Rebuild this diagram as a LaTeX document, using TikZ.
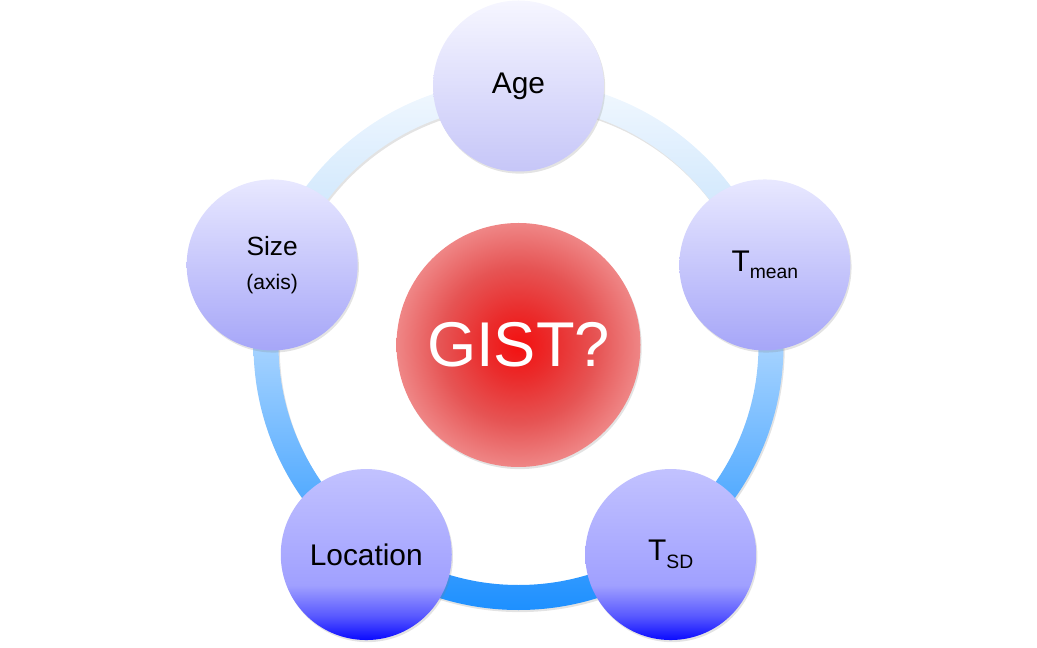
\documentclass[tikz,border=0pt]{standalone}
\usepackage{fontspec}
\setmainfont{Liberation Sans}
\usetikzlibrary{shadows}

\definecolor{ringtop}{HTML}{F2F8FE}
\definecolor{ringupper}{HTML}{CFE7FD}
\definecolor{ringmid}{HTML}{A6D3FF}
\definecolor{ringlower}{HTML}{5CAFFF}
\definecolor{ringlow}{HTML}{1E90FF}
\definecolor{agetop}{HTML}{F6F6FF}
\definecolor{agelow}{HTML}{C6C6F8}
\definecolor{midtop}{HTML}{E8E8FF}
\definecolor{midlow}{HTML}{A6A6F8}
\definecolor{lowtop}{HTML}{C2C2FF}
\definecolor{lowmid}{HTML}{A0A0FF}
\definecolor{lowramp}{HTML}{5858FF}
\definecolor{lowlow}{HTML}{0A0AFF}
\definecolor{gistcore}{HTML}{F41010}
\definecolor{gistin}{HTML}{EA2C2C}
\definecolor{gistout}{HTML}{E65454}
\definecolor{gistrim}{HTML}{EF8686}

\pgfdeclareverticalshading{ringfade}{100bp}{color(0bp)=(ringlow); color(25bp)=(ringlow); color(37bp)=(ringlower); color(50bp)=(ringmid); color(62bp)=(ringupper); color(75bp)=(ringtop); color(100bp)=(ringtop)}
\pgfdeclareverticalshading{topball}{100bp}{color(0bp)=(agelow); color(25bp)=(agelow); color(75bp)=(agetop); color(100bp)=(agetop)}
\pgfdeclareverticalshading{midball}{100bp}{color(0bp)=(midlow); color(25bp)=(midlow); color(75bp)=(midtop); color(100bp)=(midtop)}
\pgfdeclareverticalshading{lowball}{100bp}{color(0bp)=(lowlow); color(25bp)=(lowlow); color(32bp)=(lowramp); color(41bp)=(lowmid); color(75bp)=(lowtop); color(100bp)=(lowtop)}
\pgfdeclareradialshading{gistball}{\pgfpoint{0bp}{0bp}}{color(0bp)=(gistcore); color(7bp)=(gistin); color(16bp)=(gistout); color(25bp)=(gistrim); color(50bp)=(gistrim)}

\tikzset{
	softshadow/.style={drop shadow={opacity=0.22, shadow xshift=0.7pt, shadow yshift=-1.2pt}},
	ringshadow/.style={drop shadow={opacity=0.22, even odd rule, shadow xshift=0.7pt, shadow yshift=-1.2pt}},
	ball/.style={circle, minimum size=3.42cm, inner sep=0pt, align=center, softshadow, font=\fontsize{17}{20}\selectfont},
	gist/.style={circle, minimum size=4.88cm, inner sep=0pt, shading=gistball, text=white, softshadow, font=\fontsize{36}{40}\selectfont}
}

\begin{document}
\begin{tikzpicture}
		%%%%% START %%%%%
		\useasboundingbox (-10.37, -6.04) rectangle (10.37, 6.9);
		
		% ring
		\path[even odd rule, shading=ringfade, ringshadow] (0, 0) circle (5.3) (0, 0) circle (4.8);
		
		% centre
		\node[gist] (gist) at (0, 0) {GIST?};
		
		% outer balls
		\node[ball, shading=topball] (age) at (90:5.18) {Age};
		\node[ball, shading=midball] (tmean) at (18:5.18) {T\raisebox{-4pt}{\fontsize{11}{13}\selectfont mean}};
		\node[ball, shading=lowball] (tsd) at (-54:5.18) {T\raisebox{-4.5pt}{\fontsize{11}{13}\selectfont SD}};
		\node[ball, shading=lowball] (location) at (234:5.18) {Location};
		\node[ball, shading=midball, font=\fontsize{15}{19}\selectfont] (size) at (162:5.18) {Size\\{\fontsize{12}{19}\selectfont (axis)}};
		
		%%%%% END %%%%%
	\end{tikzpicture}
\end{document}
